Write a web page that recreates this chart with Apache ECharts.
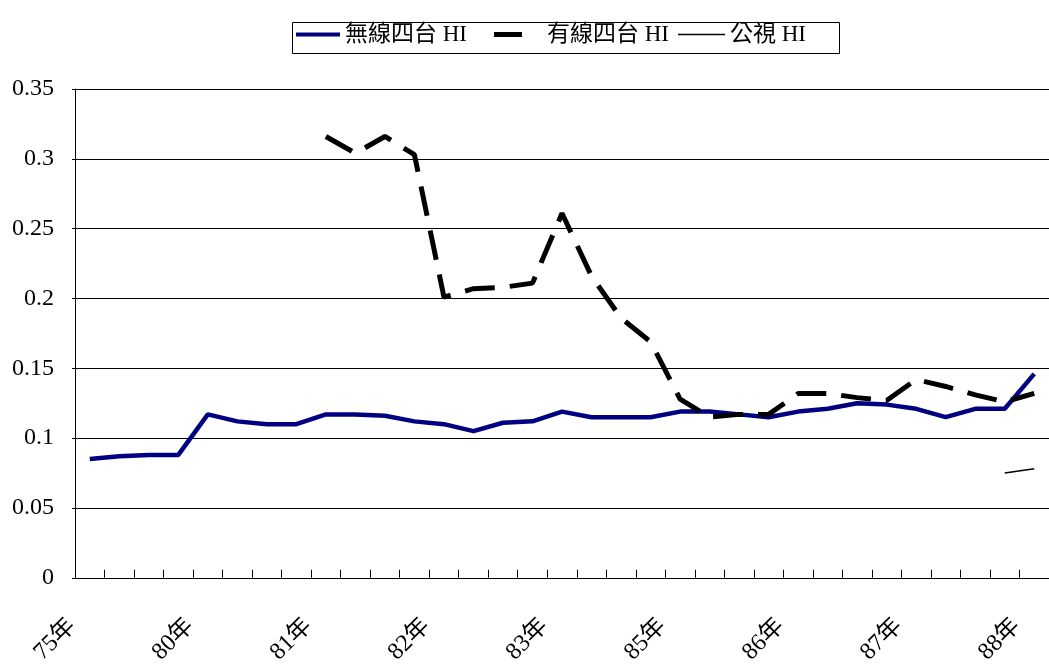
<!DOCTYPE html>
<html>
<head>
<meta charset="utf-8">
<script src="https://cdn.jsdelivr.net/npm/echarts@6/dist/echarts.min.js"></script>
<style>
  html, body { margin: 0; padding: 0; background: #fff; }
  #chart { width: 1049px; height: 667px; }
</style>
</head>
<body>
<div id="chart"></div>
<script>
// Period labels along the x axis (one label every fourth period)
const periods = [
  '75年', '', '', '',
  '80年', '', '', '',
  '81年', '', '', '',
  '82年', '', '', '',
  '83年', '', '', '',
  '85年', '', '', '',
  '86年', '', '', '',
  '87年', '', '', '',
  '88年'
];

// 無線四台 HI
const wirelessHI = [
  0.085, 0.087, 0.088, 0.088, 0.117, 0.112, 0.110, 0.110,
  0.117, 0.117, 0.116, 0.112, 0.110, 0.105, 0.111, 0.112,
  0.119, 0.115, 0.115, 0.115, 0.119, 0.119, 0.117, 0.115,
  0.119, 0.121, 0.125, 0.124, 0.121, 0.115, 0.121, 0.121,
  0.146
];

// 有線四台 HI
const cableHI = [
  null, null, null, null, null, null, null, null,
  0.316, 0.304, 0.316, 0.303, 0.201, 0.207, 0.208, 0.211,
  0.261, 0.216, 0.186, 0.169, 0.128, 0.115, 0.117, 0.117,
  0.132, 0.132, 0.129, 0.127, 0.142, 0.137, 0.131, 0.126,
  0.132
];

// 公視 HI
const publicHI = [
  null, null, null, null, null, null, null, null,
  null, null, null, null, null, null, null, null,
  null, null, null, null, null, null, null, null,
  null, null, null, null, null, null, null, 0.075,
  0.078
];

const yTicks = { min: 0, max: 0.35, interval: 0.05 };

const FONT = "'Liberation Serif', 'Noto Sans CJK TC', serif";

const chart = echarts.init(document.getElementById('chart'), null, { renderer: 'canvas' });

const legendText = { fontFamily: FONT, fontSize: 23, color: '#000' };

chart.setOption({
  animation: false,
  backgroundColor: '#fff',
  textStyle: { fontFamily: FONT },
  graphic: [{
    type: 'rect',
    left: 290, top: 20,
    shape: { width: 547, height: 31 },
    style: { fill: 'none', stroke: '#000', lineWidth: 1 },
    silent: true
  }],
  // three legend blocks, each swatch drawn as a bar the thickness of its line
  legend: [
    {
      left: 296, top: 23, padding: 0, icon: 'rect',
      itemWidth: 44, itemHeight: 4,
      data: ['無線四台 HI'], textStyle: legendText
    },
    {
      left: 494, top: 23, padding: 0, icon: 'rect',
      itemWidth: 28, itemHeight: 5,
      data: ['有線四台 HI'],
      textStyle: Object.assign({ padding: [0, 0, 0, 20] }, legendText)
    },
    {
      left: 678, top: 23, padding: 0, icon: 'rect',
      itemWidth: 47, itemHeight: 1.5,
      data: ['公視 HI'], textStyle: legendText
    }
  ],
  grid: { left: 75, right: 0, top: 89, bottom: 86, containLabel: false },
  xAxis: {
    type: 'category',
    data: periods,
    boundaryGap: true,
    axisLine: { lineStyle: { color: '#000', width: 1 } },
    axisTick: { show: true, inside: true, length: 8, interval: 0, lineStyle: { color: '#000' } },
    axisLabel: {
      interval: 3,
      rotate: 45,
      margin: 27,
      padding: [0, 25, 0, 0],
      fontFamily: FONT,
      fontSize: 24,
      color: '#000'
    },
    splitLine: { show: false }
  },
  yAxis: {
    type: 'value',
    min: yTicks.min,
    max: yTicks.max,
    interval: yTicks.interval,
    axisLine: { show: true, lineStyle: { color: '#000', width: 1 } },
    axisTick: { show: true, length: 3, lineStyle: { color: '#000' } },
    axisLabel: {
      margin: 21,
      fontFamily: FONT,
      fontSize: 24,
      color: '#000',
      formatter: v => String(Math.round(v * 100) / 100)
    },
    splitLine: { show: true, lineStyle: { color: '#000', width: 1 } }
  },
  series: [
    {
      name: '無線四台 HI',
      type: 'line',
      data: wirelessHI,
      symbol: 'none',
      lineStyle: { color: '#000080', width: 4.5 },
      itemStyle: { color: '#000080' },
      z: 3
    },
    {
      name: '有線四台 HI',
      type: 'line',
      data: cableHI,
      symbol: 'none',
      connectNulls: false,
      lineStyle: { color: '#000', width: 5, type: [30, 15], cap: 'butt' },
      itemStyle: { color: '#000' },
      z: 4
    },
    {
      name: '公視 HI',
      type: 'line',
      data: publicHI,
      symbol: 'none',
      connectNulls: false,
      lineStyle: { color: '#000', width: 1.5 },
      itemStyle: { color: '#000' },
      z: 4
    }
  ]
});
</script>
</body>
</html>
